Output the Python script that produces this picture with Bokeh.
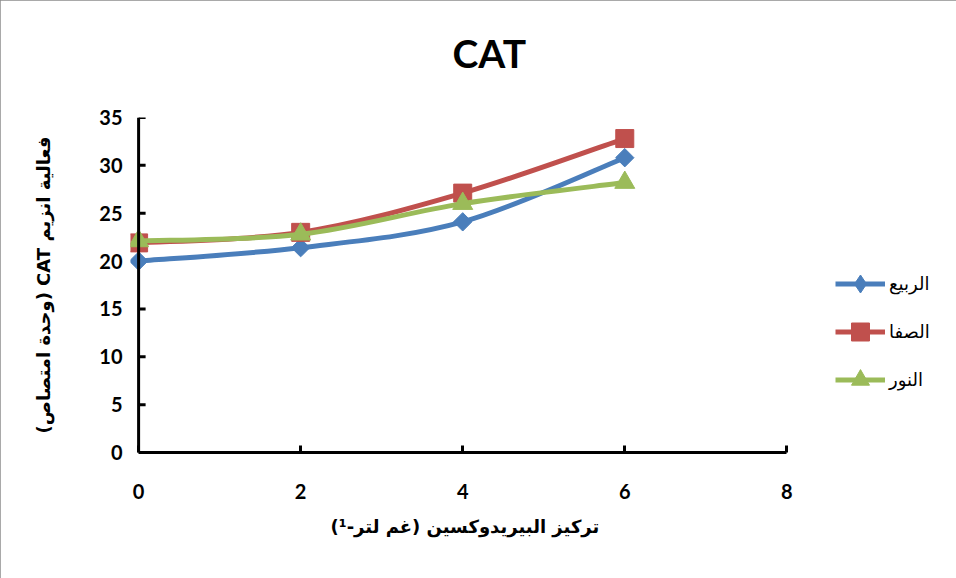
import numpy as np
from bokeh.plotting import figure
from bokeh.models import Range1d, Legend, LegendItem, FixedTicker, Span, Title
from bokeh.embed import file_html
from bokeh.resources import INLINE

# ---- data ----
conc = [0, 2, 4, 6]
rabee = [20.0, 21.4, 24.1, 30.8]   # الربيع
safa = [21.9, 23.0, 27.1, 32.8]    # الصفا
noor = [22.1, 22.8, 26.0, 28.2]    # النور
series_names = ["الربيع", "الصفا", "النور"]
x_ticks = [0, 2, 4, 6, 8]
y_ticks = [0, 5, 10, 15, 20, 25, 30, 35]

title_text = "CAT"
x_title = "تركيز البيريدوكسين (غم لتر-¹)"
y_title = "فعالية انزيم CAT (وحدة امتصاص)"
RLE, PDF = "\u202B", "\u202C"

colors = ["#4A7EBB", "#C0504D", "#9BBB59"]
markers = [("square", 13, np.pi / 4), ("square", 18, 0.0), ("triangle", 20, 0.0)]
legend_markers = ["diamond", "square", "triangle"]

# frame spans to the right edge so the legend (inside the frame) is not clipped;
# the x axis itself is bounded to 0..8
p = figure(width=956, height=578, output_backend="svg", toolbar_location=None,
           x_range=Range1d(-0.1, 10.02), y_range=Range1d(0, 35),
           min_border_left=130, min_border_right=6,
           min_border_top=117, min_border_bottom=126)
p.outline_line_color = None
p.xgrid.visible = False
p.ygrid.visible = False
p.background_fill_color = "white"
p.border_fill_color = "white"
p.styles = {"outline": "2px solid #8c8c8c", "outline-offset": "-2px"}

# title
p.title.text = title_text
p.title.align = "left"
p.title.offset = 322
p.title.text_font = "Lato"
p.title.text_font_size = "39px"
p.title.text_font_style = "bold"
p.title.text_color = "black"
p.title.standoff = 40
# empty spacer between title and plot area
p.add_layout(Title(text=" ", text_font_size="12px", standoff=6), "above")

for ax in (p.xaxis[0], p.yaxis[0]):
    ax.axis_line_width = 3
    ax.axis_line_color = "black"
    ax.major_tick_line_width = 3
    ax.major_tick_line_color = "black"
    ax.major_tick_in = 7
    ax.major_tick_out = 0
    ax.minor_tick_line_color = None
    ax.major_label_text_font = "Lato"
    ax.major_label_text_font_size = "20px"
    ax.major_label_text_font_style = "bold"
    ax.major_label_text_color = "black"
    ax.axis_label_text_font = "DejaVu Sans"
    ax.axis_label_text_font_size = "18px"
    ax.axis_label_text_font_style = "bold"
    ax.axis_label_text_color = "black"

p.xaxis[0].ticker = FixedTicker(ticks=x_ticks)
p.yaxis[0].ticker = FixedTicker(ticks=y_ticks)
p.xaxis[0].bounds = (0, 8)
p.yaxis[0].axis_label = RLE + y_title + PDF
p.xaxis[0].major_label_standoff = 31
# y axis sits at the frame edge; its line and ticks are redrawn at x = 0
p.yaxis[0].axis_line_color = None
p.yaxis[0].major_tick_line_color = None
p.yaxis[0].major_label_standoff = 8
p.yaxis[0].axis_label_standoff = 42

p.add_layout(Span(location=0, dimension="height", line_color="black", line_width=3))
p.ray(x=[0] * len(y_ticks), y=y_ticks, length=7, length_units="screen", angle=0,
      line_color="black", line_width=3)

xt = Title(text=x_title, align="left", offset=200, text_font="DejaVu Sans",
           text_font_size="18px", text_font_style="bold", text_color="black",
           standoff=25)
p.add_layout(xt, "below")


def smooth_segments(xs, ys):
    P = np.column_stack([xs, ys]).astype(float)
    n = len(P)
    segs = {k: [] for k in ("x0", "y0", "x1", "y1", "cx0", "cy0", "cx1", "cy1")}
    for i in range(n - 1):
        pp = P[i - 1] if i > 0 else P[i]
        pn = P[i + 2] if i + 2 < n else P[i + 1]
        c1 = P[i] + (P[i + 1] - pp) / 6.0
        c2 = P[i + 1] - (pn - P[i]) / 6.0
        segs["x0"].append(P[i][0]); segs["y0"].append(P[i][1])
        segs["x1"].append(P[i + 1][0]); segs["y1"].append(P[i + 1][1])
        segs["cx0"].append(c1[0]); segs["cy0"].append(c1[1])
        segs["cx1"].append(c2[0]); segs["cy1"].append(c2[1])
    return segs


items = []
for vals, name, col, (mk, sz, ang), lmk in zip([rabee, safa, noor], series_names,
                                                colors, markers, legend_markers):
    s = smooth_segments(conc, vals)
    p.bezier(line_color=col, line_width=5, **s)
    p.scatter(x=conc, y=vals, marker=mk, size=sz, angle=ang,
              fill_color=col, line_color=col)
    # legend-only glyphs (NaN data draws nothing in the plot)
    dline = p.line(x=[np.nan], y=[np.nan], line_color=col, line_width=5)
    dmark = p.scatter(x=[np.nan], y=[np.nan], marker=lmk, fill_color=col, line_color=col)
    items.append(LegendItem(label=name, renderers=[dline, dmark]))

legend = Legend(items=items, location=(705, 50), orientation="vertical",
                glyph_width=50, glyph_height=45, spacing=3, padding=0, margin=0,
                label_text_font="DejaVu Sans", label_text_font_size="18px",
                label_text_color="black", label_standoff=4,
                background_fill_alpha=0, border_line_color=None)
p.add_layout(legend, "center")

open("out.html", "w").write(file_html(p, INLINE))
